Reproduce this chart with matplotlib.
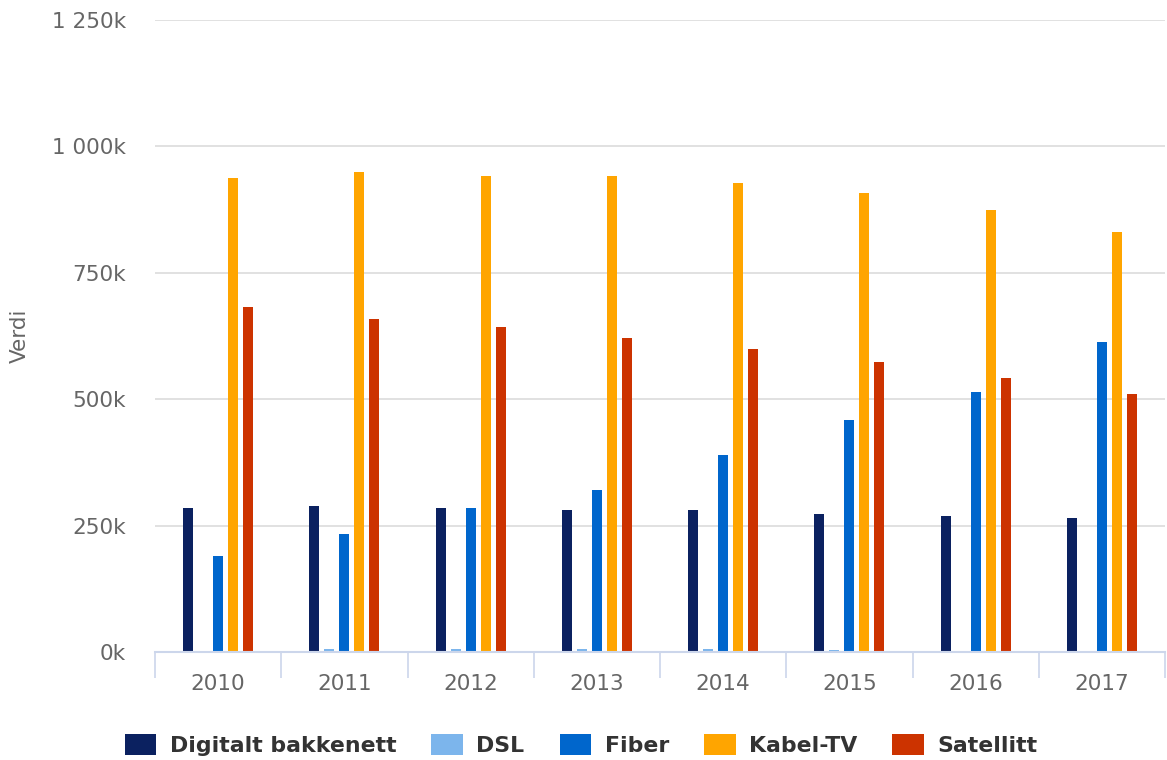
import numpy as np
import matplotlib
matplotlib.use("Agg")
import matplotlib.pyplot as plt
from matplotlib.ticker import FuncFormatter, FixedLocator

years = ["2010", "2011", "2012", "2013", "2014", "2015", "2016", "2017"]
series_names = ["Digitalt bakkenett", "DSL", "Fiber", "Kabel-TV", "Satellitt"]
digitalt_bakkenett = [285000, 289000, 285000, 281000, 281000, 273000, 269000, 265000]
dsl = [0, 5000, 5000, 5000, 5000, 4000, 0, 0]
fiber = [189000, 234000, 285000, 321000, 390000, 458000, 514000, 614000]
kabel_tv = [938000, 950000, 942000, 942000, 927000, 907000, 874000, 830000]
satellitt = [682000, 658000, 642000, 622000, 599000, 574000, 542000, 510000]
colors = ["#0b2160", "#7cb5ec", "#0066cc", "#ffa500", "#cc3300"]

plt.rcParams["font.family"] = ["DejaVu Sans"]

fig = plt.figure(figsize=(11.67, 7.60), dpi=100)
ax = fig.add_axes([155 / 1167, 108 / 760, 1010 / 1167, 632 / 760])

x = np.arange(len(years))
pitch = 15 / 126
width = 10 / 126
all_series = [digitalt_bakkenett, dsl, fiber, kabel_tv, satellitt]
for i, (name, vals, col) in enumerate(zip(series_names, all_series, colors)):
    ax.bar(x + (i - 2) * pitch, vals, width=width, color=col, label=name,
           zorder=3, linewidth=0)

ax.set_xlim(-0.5, len(years) - 0.5)
ax.set_ylim(0, 1250000)
ax.set_yticks([0, 250000, 500000, 750000, 1000000, 1250000])


def fmt_k(v, pos):
    k = int(round(v / 1000))
    s = f"{k:,}".replace(",", " ")
    return f"{s}k"


ax.yaxis.set_major_formatter(FuncFormatter(fmt_k))
ax.grid(axis="y", color="#dcdcdc", linewidth=1.2, zorder=0)
ax.tick_params(axis="y", length=0, labelsize=15.5, labelcolor="#666666", pad=21)

ax.set_xticks(x)
ax.set_xticklabels(years)
ax.xaxis.set_minor_locator(FixedLocator(np.arange(-0.5, len(years), 1.0)))
ax.tick_params(axis="x", which="major", length=0, labelsize=15.5,
               labelcolor="#666666", pad=16)
ax.tick_params(axis="x", which="minor", length=19, width=1.2, color="#ccd6eb")

for side in ["top", "right", "left"]:
    ax.spines[side].set_visible(False)
ax.spines["bottom"].set_color("#ccd6eb")
ax.spines["bottom"].set_linewidth(1.5)
ax.spines["bottom"].set_zorder(4)

ax.set_ylabel("Verdi", fontsize=15.5, color="#666666")
ax.yaxis.set_label_coords(-125 / 1010, 0.5)

leg = fig.legend(loc="center", bbox_to_anchor=(581 / 1167, 1 - 745 / 760),
                 ncol=5, frameon=False, handlelength=1.45, handleheight=1.05,
                 handletextpad=0.6, columnspacing=1.6,
                 prop={"weight": "bold", "size": 15.8})
for t in leg.get_texts():
    t.set_color("#333333")

fig.savefig("out.png", dpi=100)
